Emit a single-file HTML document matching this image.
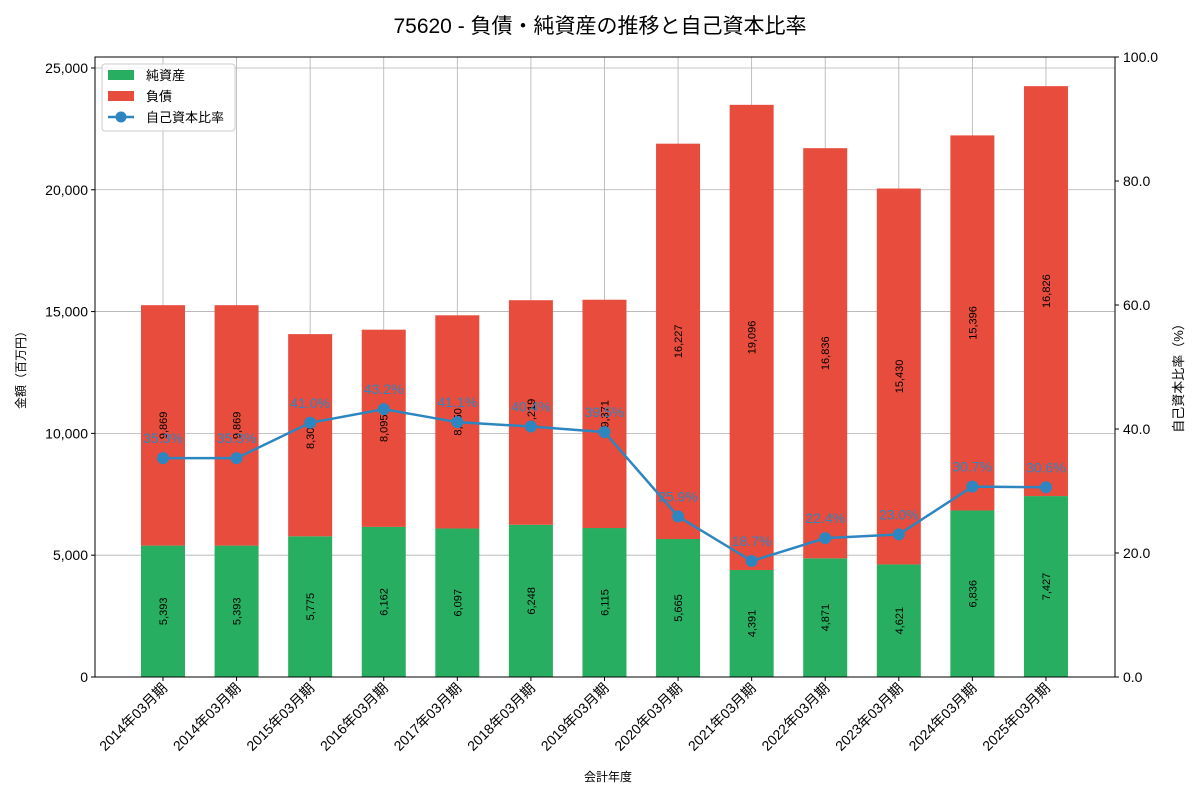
<!DOCTYPE html>
<html><head><meta charset="utf-8"><style>
body{margin:0;background:#fff;font-family:"Liberation Sans","Noto Sans CJK JP",sans-serif}
</style></head><body>
<svg id="c" width="1200" height="800" xmlns="http://www.w3.org/2000/svg" font-family="Liberation Sans, Noto Sans CJK JP, sans-serif"></svg>
<script>
const categories=["2014年03月期","2014年03月期","2015年03月期","2016年03月期","2017年03月期","2018年03月期","2019年03月期","2020年03月期","2021年03月期","2022年03月期","2023年03月期","2024年03月期","2025年03月期"];
const netAssets=[5393,5393,5775,6162,6097,6248,6115,5665,4391,4871,4621,6836,7427];
const liabilities=[9869,9869,8300,8095,8750,9219,9371,16227,19096,16836,15430,15396,16826];
const ratio=[35.3,35.3,41.0,43.2,41.1,40.4,39.5,25.9,18.7,22.4,23.0,30.7,30.6];
const leftTicks=[0,5000,10000,15000,20000,25000];
const rightTicks=[0,20,40,60,80,100];

const svg=document.getElementById('c');const NS='http://www.w3.org/2000/svg';
function el(t,a,p){const e=document.createElementNS(NS,t);for(const k in a)e.setAttribute(k,a[k]);(p||svg).appendChild(e);return e;}
const L=95,R=1115,T=57,B=677;
const yL=v=>B-(v/25450)*(B-T);
const yR=v=>B-(v/100)*(B-T);
const step=73.58;const xC=i=>163+step*i;const bw=44;

const title=el('text',{x:600,y:33,'text-anchor':'middle','font-size':21,fill:'#000'});

title.textContent='75620 - 負債・純資産の推移と自己資本比率';

const grid=el('g',{});
categories.forEach((c,i)=>{el('line',{x1:xC(i),x2:xC(i),y1:T,y2:B,stroke:'#b0b0b0','stroke-width':0.8},grid);});
leftTicks.forEach(v=>{el('line',{x1:L,x2:R,y1:yL(v),y2:yL(v),stroke:'#b0b0b0','stroke-width':0.8},grid);});

const bars=el('g',{});
categories.forEach((c,i)=>{
  const x=xC(i)-bw/2;
  const g=el('rect',{x:x,y:yL(netAssets[i]),width:bw,height:B-yL(netAssets[i]),fill:'#27ae60'},bars);
  
  const top=netAssets[i]+liabilities[i];
  const r=el('rect',{x:x,y:yL(top),width:bw,height:yL(netAssets[i])-yL(top),fill:'#e74c3c'},bars);
  
  const ym1=yL(netAssets[i]/2),ym2=yL(netAssets[i]+liabilities[i]/2);
  const t1=el('text',{x:0,y:0,transform:`translate(${xC(i)+4},${ym1}) rotate(-90)`,'text-anchor':'middle','font-size':11,fill:'#000'},bars);
  
  t1.textContent=netAssets[i].toLocaleString('en-US');
  const t2=el('text',{x:0,y:0,transform:`translate(${xC(i)+4},${ym2}) rotate(-90)`,'text-anchor':'middle','font-size':11,fill:'#000'},bars);
  
  t2.textContent=liabilities[i].toLocaleString('en-US');
});

const line=el('g',{});
const pl=el('polyline',{points:ratio.map((v,i)=>xC(i)+','+yR(v)).join(' '),fill:'none',stroke:'#2e86c1','stroke-width':2.5},line);

ratio.forEach((v,i)=>{
  const p=el('circle',{cx:xC(i),cy:yR(v),r:6,fill:'#2e86c1'},line);
  
  const t=el('text',{x:xC(i),y:yR(v)-15,'text-anchor':'middle','font-size':14,fill:'#2e86c1'},line);
  
  t.textContent=v.toFixed(1)+'%';
});

const ax=el('g',{});
el('rect',{x:L,y:T,width:R-L,height:B-T,fill:'none',stroke:'#000','stroke-width':1},ax);
leftTicks.forEach(v=>{
  el('line',{x1:L-4,x2:L,y1:yL(v),y2:yL(v),stroke:'#000'},ax);
  const t=el('text',{x:L-7,y:yL(v)+5,'text-anchor':'end','font-size':14,fill:'#000'},ax);
  
  t.textContent=v.toLocaleString('en-US');
});
rightTicks.forEach(v=>{
  el('line',{x1:R,x2:R+4,y1:yR(v),y2:yR(v),stroke:'#000'},ax);
  const t=el('text',{x:R+8,y:yR(v)+5,'font-size':14,fill:'#000'},ax);
  
  t.textContent=v.toFixed(1);
});
categories.forEach((c,i)=>{
  el('line',{x1:xC(i),x2:xC(i),y1:B,y2:B+4,stroke:'#000'},ax);
  const t=el('text',{x:0,y:0,transform:`translate(${xC(i)+5},${B+12}) rotate(-45)`,'text-anchor':'end','font-size':14,fill:'#000'},ax);
  
  t.textContent=c;
});
let t=el('text',{x:608,y:781,'text-anchor':'middle','font-size':12,fill:'#000'});
t.textContent='会計年度';
t=el('text',{x:0,y:0,transform:'translate(25,367) rotate(-90)','text-anchor':'middle','font-size':12,fill:'#000'});
t.textContent='金額（百万円）';
t=el('text',{x:0,y:0,transform:'translate(1183,375) rotate(-90)','text-anchor':'middle','font-size':13,fill:'#000'});
t.textContent='自己資本比率（%）';

const lg=el('g',{});
el('rect',{x:102,y:64,width:133,height:67,rx:3,fill:'#fff','fill-opacity':0.8,stroke:'#ccc'},lg);
const items=[['純資産','#27ae60','rect'],['負債','#e74c3c','rect'],['自己資本比率','#2e86c1','line']];
items.forEach((it,k)=>{
  const y=75+k*21;
  const e=el('g',{},lg);
  if(it[2]=='rect')el('rect',{x:108,y:y-5,width:26,height:10,fill:it[1]},e);
  else{el('line',{x1:108,x2:134,y1:y,y2:y,stroke:it[1],'stroke-width':2.5},e);el('circle',{cx:121,cy:y,r:5.5,fill:it[1]},e);}
  const tt=el('text',{x:146,y:y+5,'font-size':13,fill:'#000'},e);tt.textContent=it[0];
});
</script>
</body></html>
